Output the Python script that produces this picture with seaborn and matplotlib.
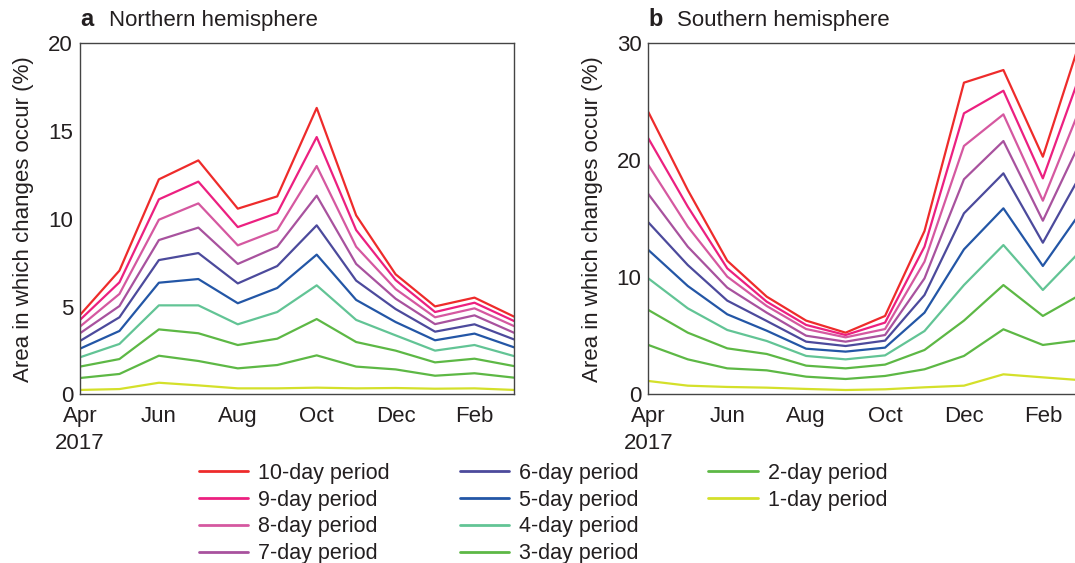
import numpy as np
import pandas as pd
import matplotlib
matplotlib.use("Agg")
import matplotlib.pyplot as plt
import seaborn as sns
from matplotlib.lines import Line2D

sns.set_theme(style="white")
plt.rcParams['font.family'] = ['Liberation Sans', 'DejaVu Sans']

months = ["Apr", "May", "Jun", "Jul", "Aug", "Sep", "Oct", "Nov", "Dec", "Jan", "Feb", "Mar"]
tick_labels = ["Apr\n2017", "", "Jun", "", "Aug", "", "Oct", "", "Dec", "", "Feb", ""]
periods = ["10-day period", "9-day period", "8-day period", "7-day period", "6-day period",
           "5-day period", "4-day period", "3-day period", "2-day period", "1-day period"]
colors = ["#ee2b2b", "#ec2080", "#d558a0", "#a8529e", "#4c4a9c",
          "#2356a6", "#62c495", "#5db845", "#5db845", "#d4e02a"]

north_10 = [4.52, 7.05, 12.25, 13.33, 10.58, 11.28, 16.32, 10.20, 6.84, 5.01, 5.51, 4.43]
north_9 = [4.24, 6.38, 11.11, 12.12, 9.53, 10.33, 14.66, 9.36, 6.51, 4.69, 5.22, 4.18]
north_8 = [3.86, 5.72, 9.95, 10.88, 8.49, 9.36, 13.01, 8.41, 6.00, 4.39, 4.90, 3.89]
north_7 = [3.48, 5.03, 8.79, 9.50, 7.43, 8.41, 11.32, 7.43, 5.45, 4.00, 4.50, 3.51]
north_6 = [3.04, 4.39, 7.65, 8.05, 6.32, 7.31, 9.63, 6.48, 4.86, 3.57, 3.99, 3.13]
north_5 = [2.60, 3.61, 6.36, 6.57, 5.19, 6.06, 7.96, 5.38, 4.12, 3.08, 3.46, 2.68]
north_4 = [2.11, 2.87, 5.07, 5.07, 3.99, 4.69, 6.21, 4.24, 3.36, 2.49, 2.81, 2.18]
north_3 = [1.58, 2.01, 3.70, 3.48, 2.81, 3.17, 4.29, 2.98, 2.49, 1.82, 2.03, 1.61]
north_2 = [0.93, 1.16, 2.20, 1.90, 1.48, 1.67, 2.22, 1.58, 1.42, 1.06, 1.20, 0.95]
north_1 = [0.25, 0.30, 0.66, 0.51, 0.34, 0.34, 0.38, 0.34, 0.36, 0.32, 0.34, 0.25]

south_10 = [24.13, 17.46, 11.42, 8.35, 6.30, 5.27, 6.70, 13.96, 26.64, 27.72, 20.31, 30.78]
south_9 = [21.88, 16.04, 10.77, 7.92, 5.93, 5.07, 6.13, 12.62, 24.02, 25.95, 18.46, 27.84]
south_8 = [19.60, 14.33, 10.06, 7.55, 5.58, 4.87, 5.58, 11.34, 21.23, 23.93, 16.55, 24.92]
south_7 = [17.12, 12.62, 9.12, 6.98, 5.01, 4.50, 5.07, 9.91, 18.38, 21.65, 14.84, 21.95]
south_6 = [14.70, 11.05, 8.01, 6.27, 4.50, 4.13, 4.59, 8.49, 15.47, 18.89, 12.96, 19.02]
south_5 = [12.34, 9.26, 6.84, 5.44, 3.90, 3.65, 3.99, 6.98, 12.39, 15.90, 10.97, 15.77]
south_4 = [9.91, 7.35, 5.50, 4.56, 3.28, 2.99, 3.33, 5.41, 9.34, 12.76, 8.92, 12.41]
south_3 = [7.21, 5.27, 3.93, 3.45, 2.45, 2.22, 2.54, 3.79, 6.30, 9.34, 6.70, 8.61]
south_2 = [4.22, 2.99, 2.22, 2.05, 1.51, 1.31, 1.57, 2.14, 3.28, 5.56, 4.22, 4.65]
south_1 = [1.14, 0.74, 0.63, 0.57, 0.46, 0.37, 0.43, 0.60, 0.74, 1.71, 1.45, 1.20]

north = [north_10, north_9, north_8, north_7, north_6, north_5, north_4, north_3, north_2, north_1]
south = [south_10, south_9, south_8, south_7, south_6, south_5, south_4, south_3, south_2, south_1]


def long_df(series):
    rows = []
    for p, vals in zip(periods, series):
        for i, v in enumerate(vals):
            rows.append({"month": i, "value": v, "period": p})
    return pd.DataFrame(rows)


fig = plt.figure(figsize=(10.75, 5.63), dpi=100)
ax1 = fig.add_axes([0.0744, 0.2996, 0.4037, 0.6234])
ax2 = fig.add_axes([0.6031, 0.2996, 0.4037, 0.6234])

textc = "#231f20"
fs = 16
palette = dict(zip(periods, colors))

for ax, series, ymax, yt, letter, title, lp in [
        (ax1, north, 20, [0, 5, 10, 15, 20], "a", "Northern hemisphere", 10),
        (ax2, south, 30, [0, 10, 20, 30], "b", "Southern hemisphere", 10)]:
    df = long_df(series)
    sns.lineplot(data=df, x="month", y="value", hue="period", hue_order=periods[::-1],
                 palette=palette, ax=ax, linewidth=1.6, legend=False)
    ax.set_xlim(0, 11)
    ax.set_ylim(0, ymax)
    ax.set_xticks(range(12))
    ax.set_xticklabels(tick_labels, linespacing=1.35)
    ax.set_yticks(yt)
    ax.tick_params(direction="in", length=5, width=0.9, colors="#333333",
                   labelcolor=textc, labelsize=fs)
    ax.tick_params(axis="x", pad=8.5)
    ax.tick_params(axis="y", pad=5)
    for s in ax.spines.values():
        s.set_color("#444444")
        s.set_linewidth(1.0)
        s.set_visible(True)
    ax.set_xlabel("")
    ax.set_ylabel("Area in which changes occur (%)", fontsize=fs, color=textc, labelpad=lp)
    ax.text(0.0, 1.035, letter, transform=ax.transAxes, fontsize=fs + 1, fontweight="bold",
            color=textc, ha="left", va="bottom")
    ax.text(0.066, 1.035, title, transform=ax.transAxes, fontsize=fs,
            color=textc, ha="left", va="bottom")

handles = [Line2D([0], [0], color=c, lw=2) for c in colors]
labels = list(periods)
handles += [Line2D([0], [0], color="none", lw=0)] * 2
labels += ["", ""]
leg = fig.legend(handles, labels, loc="upper left", bbox_to_anchor=(0.185, 0.178),
                 ncol=3, frameon=False, fontsize=15.5, handlelength=2.3, handletextpad=0.45,
                 columnspacing=3.25, labelspacing=0.27, borderaxespad=0, borderpad=0,
                 labelcolor=textc)

fig.savefig("out.png", dpi=100)
